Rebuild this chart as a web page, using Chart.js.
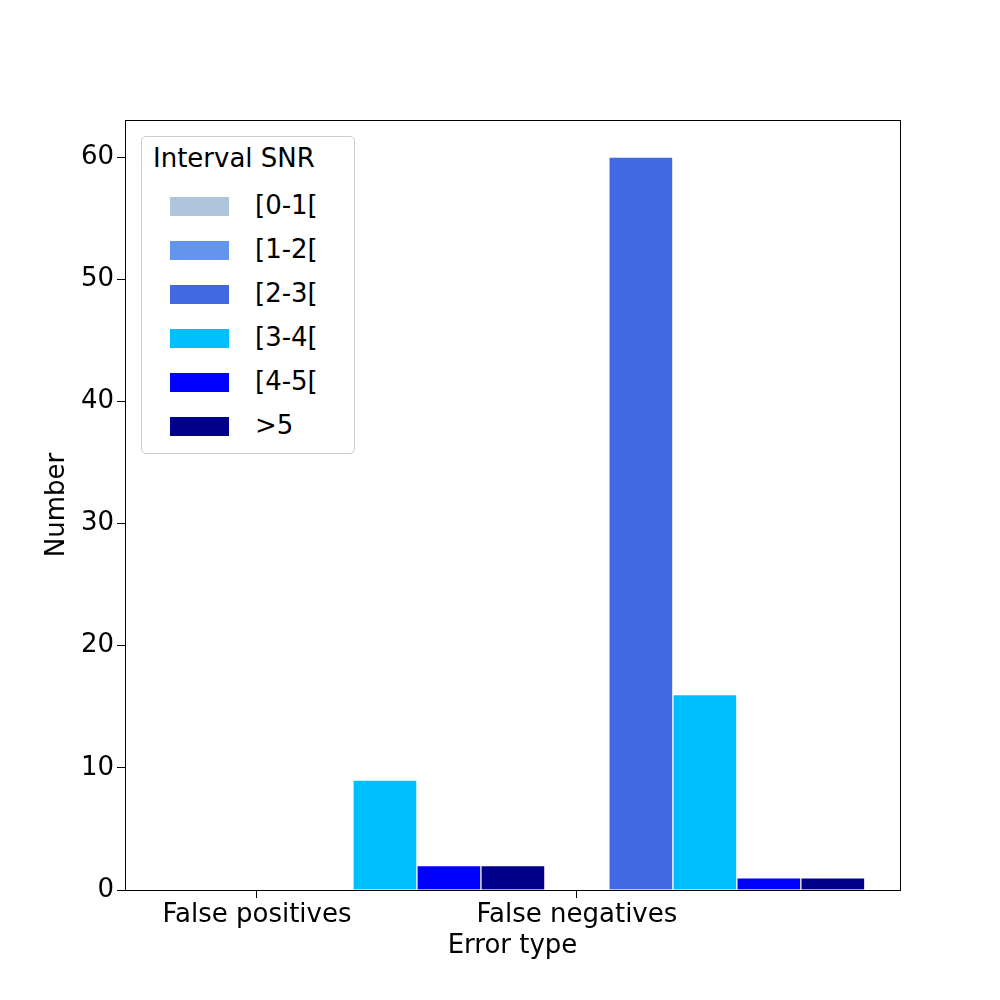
<!DOCTYPE html>
<html>
<head>
<meta charset="utf-8">
<script src="https://cdn.jsdelivr.net/npm/chart.js@4/dist/chart.umd.min.js"></script>
<style>
  body { margin: 0; background: #fff; font-family: "DejaVu Sans", sans-serif; }
  #wrap { position: relative; width: 1000px; height: 1000px; }
  #legend { position: absolute; left: 141px; top: 136px; width: 214px; height: 318px;
    border: 1px solid #ccc; border-radius: 5px; box-sizing: border-box; background: #fff; }
  #legend .title { position: absolute; left: 11px; top: 6px; font-size: 26px; }
  #legend .item { position: absolute; left: 28px; height: 30px; font-size: 26px; line-height: 30px; }
  #legend .sw { display: inline-block; width: 59px; height: 19px; vertical-align: middle; margin-right: 26px; }
</style>
</head>
<body>
<div id="wrap">
  <canvas id="c" width="1000" height="1000"></canvas>
  <div id="legend"></div>
</div>
<script>
const groups = ['False positives', 'False negatives'];
const intervals = ['[0-1[', '[1-2[', '[2-3[', '[3-4[', '[4-5[', '>5'];
const colors = ['#b0c4de', '#6495ed', '#4169e1', '#00bfff', '#0000ff', '#00008b'];
// values per interval: [false positives, false negatives]
const counts = [
  [0, 0],
  [0, 0],
  [0, 60],
  [9, 16],
  [2, 1],
  [2, 1],
];
const groupStep = 5; // groups are spaced 5 bar widths apart
const tickPos = [1.5, 6.5];

Chart.defaults.font.family = '"DejaVu Sans", sans-serif';

const datasets = intervals.map((name, i) => ({
  label: name,
  data: groups.map((g, gi) => ({ x: gi * groupStep + i + 0.5, y: counts[i][gi] })),
  backgroundColor: colors[i],
  borderColor: '#fff',
  borderWidth: 1,
  barThickness: 64,
  grouped: false,
}));

const frame = {
  id: 'frame',
  afterDraw(chart) {
    const a = chart.chartArea, ctx = chart.ctx;
    ctx.save();
    ctx.strokeStyle = '#000';
    ctx.lineWidth = 1;
    ctx.strokeRect(a.left + 0.5, a.top + 0.5, a.right - a.left, a.bottom - a.top);
    ctx.restore();
  }
};

new Chart(document.getElementById('c'), {
  type: 'bar',
  data: { datasets },
  options: {
    responsive: false,
    animation: false,
    layout: { padding: { top: 120, right: 100, left: 42, bottom: 38 } },
    plugins: { legend: { display: false }, tooltip: { enabled: false } },
    scales: {
      x: {
        type: 'linear',
        offset: false,
        min: -0.5625,
        max: 11.55,
        afterBuildTicks: s => { s.ticks = tickPos.map(v => ({ value: v })); },
        afterFit: s => { s.height = 72; },
        ticks: { color: '#000', font: { size: 26 }, autoSkip: false, maxRotation: 0, padding: 2,
          callback: (v) => groups[tickPos.indexOf(v)] },
        grid: { drawOnChartArea: false, offset: false, tickLength: 8, color: '#000' },
        border: { color: '#000' },
        title: { display: true, text: 'Error type', color: '#000', font: { size: 26 }, padding: { top: 0, bottom: 0 } },
      },
      y: {
        min: 0,
        max: 63.03,
        afterBuildTicks: s => { s.ticks = [0, 10, 20, 30, 40, 50, 60].map(v => ({ value: v })); },
        afterFit: s => { s.width = 83; },
        ticks: { color: '#000', font: { size: 26 } },
        grid: { drawOnChartArea: false, tickLength: 8, color: '#000' },
        border: { color: '#000' },
        title: { display: true, text: 'Number', color: '#000', font: { size: 26 }, padding: 0 },
      },
    },
  },
  plugins: [frame],
});

const legend = document.getElementById('legend');
legend.innerHTML = '<div class="title">Interval SNR</div>' + intervals.map((name, i) =>
  `<div class="item" style="top:${53 + i * 44}px"><span class="sw" style="background:${colors[i]}"></span>${name}</div>`
).join('');
</script>
</body>
</html>
